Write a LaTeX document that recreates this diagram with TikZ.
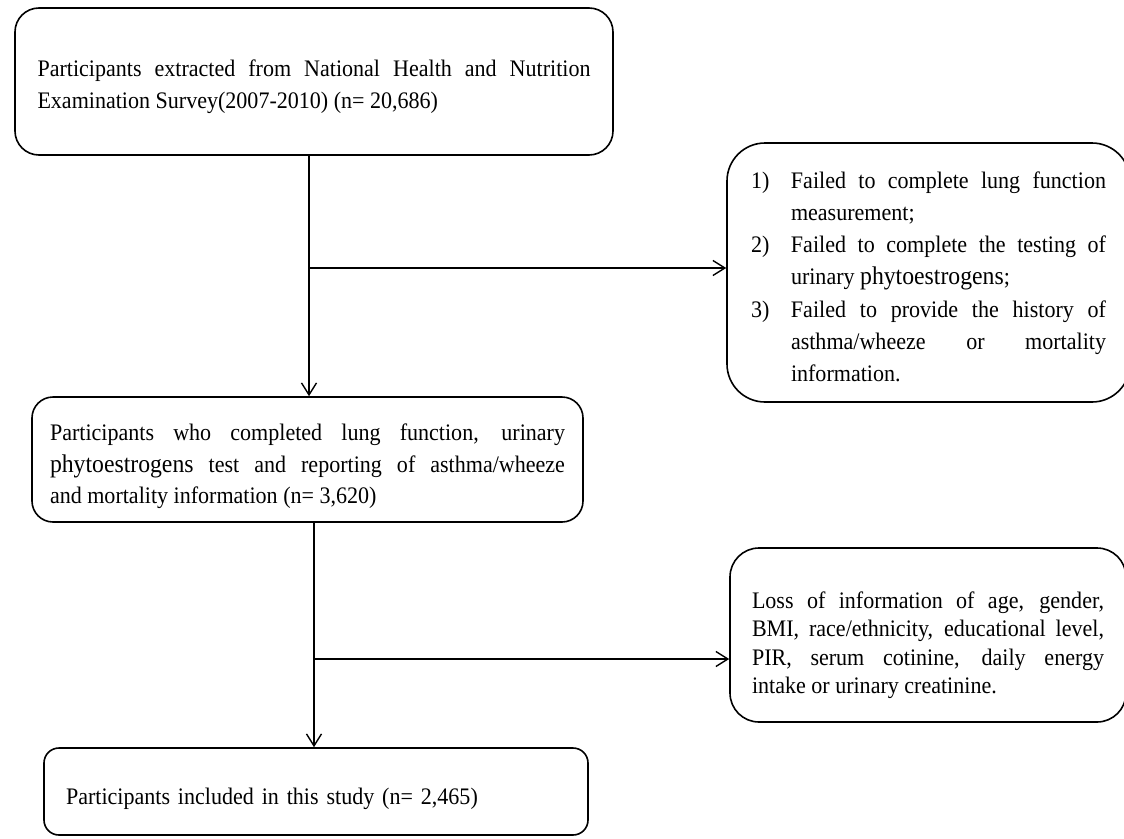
\documentclass[tikz,border=0pt]{standalone}
\usepackage{fontspec}
\setmainfont{Liberation Serif}[FakeStretch=0.93]
\usetikzlibrary{arrows.meta,calc}
\hyphenpenalty=10000
\exhyphenpenalty=10000
\newcommand{\phyto}{{\fontsize{25.5}{32}\selectfont phytoestrogens}}
\newcommand{\itm}[1]{\hangindent=40pt\hangafter=1\makebox[40pt][l]{#1}}
\newcommand{\sh}[1]{\rule{0pt}{\dimexpr 17pt+2\dimexpr #1\relax\relax}}
\begin{document}
\begin{tikzpicture}[x=1pt,y=-1pt,
  box/.style={draw=black,line width=1.6pt,inner sep=0pt,
    font=\fontsize{23.7}{31.5}\selectfont},
  arr/.style={line width=1.4pt,-{Straight Barb[length=12pt,width=15pt,line width=1.4pt]}},
  ln/.style={line width=1.4pt}]
\useasboundingbox (0,0) rectangle (1124,838);
\node[box,rounded corners=24pt,minimum width=598pt,minimum height=147pt,text width=553pt,align=justify] (b1) at (314,81.5)
  {\sh{5pt}Participants extracted from National Health and Nutrition\linebreak Examination Survey(2007-2010) (n=~20,686)};
\node[box,rounded corners=38pt,minimum width=403pt,minimum height=259pt,text width=355pt,align=justify,
  font=\fontsize{23.7}{32.2}\selectfont] (b2) at (928.5,272.5)
  {\itm{\sh{4pt}1)}Failed to complete lung function\linebreak measurement;\par
   \itm{2)}Failed to complete the testing of\linebreak urinary \phyto;\par
   \itm{3)}Failed to provide the history of\linebreak asthma/wheeze or mortality\linebreak information.\par};
\node[box,rounded corners=21pt,minimum width=551pt,minimum height=125pt,text width=515pt,align=justify] (b3) at (307.5,459.5)
  {\sh{7pt}Participants who completed lung function, urinary\linebreak \phyto{} test and reporting of asthma/wheeze\linebreak and mortality information (n=~3,620)};
\node[box,rounded corners=29pt,minimum width=396pt,minimum height=174pt,text width=352pt,align=justify,
  font=\fontsize{23.7}{28.3}\selectfont] (b4) at (928,635)
  {\sh{10pt}Loss of information of age, gender,\linebreak BMI, race/ethnicity, educational level,\linebreak PIR, serum cotinine, daily energy\linebreak intake or urinary creatinine.};
\node[box,rounded corners=15pt,minimum width=544pt,minimum height=87pt,text width=500pt,align=left] (b5) at (316,791.5)
  {\sh{7pt}Participants included in this study (n=~2,465)};
\coordinate (j1) at (309,268);
\coordinate (j2) at (314,659);
\draw[ln] (b1.south -| j1) -- (j1);
\draw[arr] (j1) -- (j1 |- b3.north);
\draw[arr] (j1) -- (j1 -| b2.west);
\draw[ln] (b3.south -| j2) -- (j2);
\draw[arr] (j2) -- (j2 |- b5.north);
\draw[arr] (j2) -- (j2 -| b4.west);
\end{tikzpicture}
\end{document}
